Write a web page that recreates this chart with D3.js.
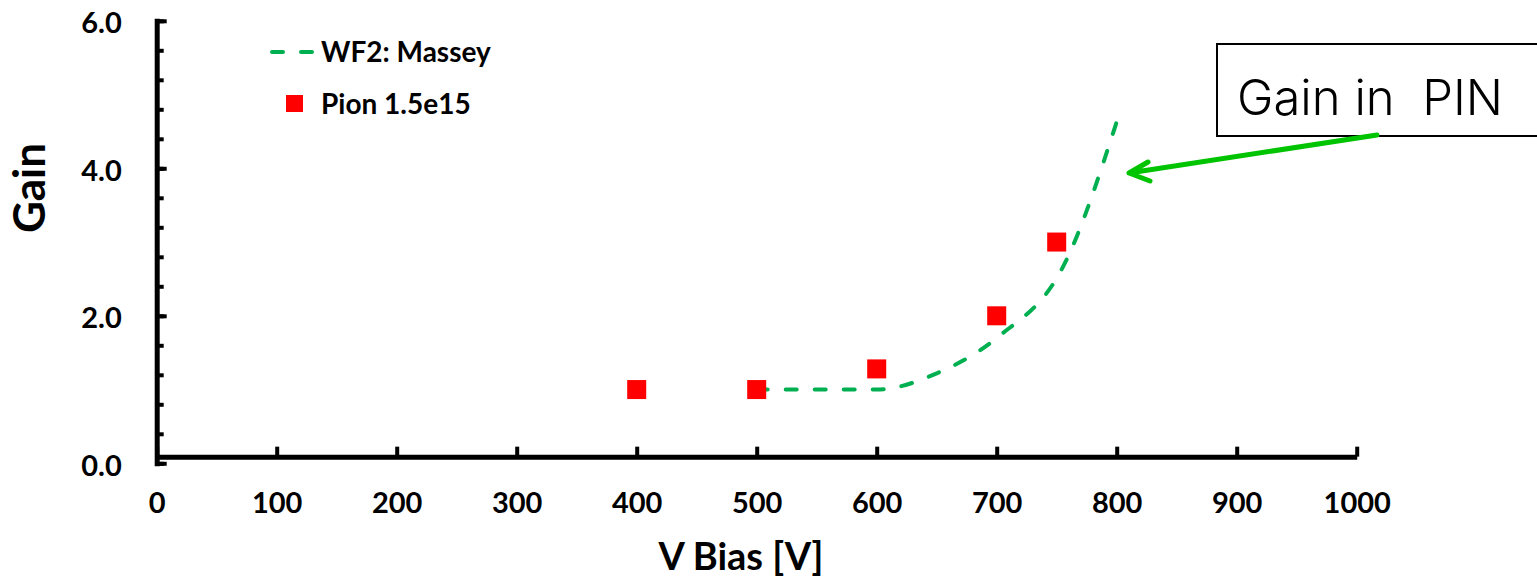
<!DOCTYPE html>
<html>
<head>
<meta charset="utf-8">
<script src="https://cdn.jsdelivr.net/npm/d3@7"></script>
<style>
    body { margin: 0; background: #fff; }
    svg { display: block; }
    text { font-family: Lato, "Open Sans", sans-serif; }
</style>
</head>
<body>
<div id="chart"></div>
<script>
// values
const pionVoltage = [400, 500, 600, 700, 750];
const pionGain = [1.0, 1.0, 1.28, 2.0, 3.0];
const masseyVoltage = [500, 550, 600, 650, 700, 757, 800];
const masseyGain = [1.0, 1.0, 1.0, 1.22, 1.7, 2.72, 4.63];
const xTicks = [0, 100, 200, 300, 400, 500, 600, 700, 800, 900, 1000];
const yMajorTicks = [0, 2, 4, 6];
const yMinorTicks = [0, 0.4, 0.8, 1.2, 1.6, 2.0, 2.4, 2.8, 3.2, 3.6, 4.0, 4.4, 4.8, 5.2, 5.6, 6.0];
const legendLabels = ["WF2: Massey", "Pion 1.5e15"];
const noteText = "Gain in  PIN";

window.addEventListener('load', () => {
    const width = 1537;
    const height = 579;
    const lineGreen = "#00b050";
    const arrowGreen = "#00c400";
    const markerRed = "#ff0000";

    const svg = d3.select("#chart")
        .append("svg")
        .attr("width", width)
        .attr("height", height);

    const x = d3.scaleLinear().domain([0, 1000]).range([156.7, 1356.7]);
    const y = d3.scaleLinear().domain([0, 6]).range([463.3, 20.8]);
    const xAxisCross = 0.09;  // excel draws the category axis a touch above zero

    // Y axis: minor ticks, then major ticks with labels
    svg.append("g")
        .attr("transform", `translate(${x(0)},0)`)
        .call(d3.axisLeft(y).tickValues(yMinorTicks).tickSizeInner(-7).tickSizeOuter(0).tickFormat(""))
        .call(g => g.selectAll(".tick line").attr("stroke", "#000").attr("stroke-width", 4))
        .call(g => g.select(".domain").remove());

    svg.append("g")
        .attr("transform", `translate(${x(0)},0)`)
        .call(d3.axisLeft(y).tickValues(yMajorTicks).tickSizeInner(-10).tickSizeOuter(0)
            .tickPadding(35).tickFormat(d3.format(".1f")))
        .call(g => g.select(".domain").attr("stroke", "#000").attr("stroke-width", 5)
            .attr("stroke-linecap", "square"))
        .call(g => g.selectAll(".tick line").attr("stroke", "#000").attr("stroke-width", 4))
        .call(g => g.selectAll(".tick text")
            .attr("fill", "#000")
            .attr("dy", "0.42em")
            .style("font-size", "29px")
            .style("font-weight", "bold"));

    // X axis with ticks pointing up into the plot
    svg.append("g")
        .attr("transform", `translate(0,${y(xAxisCross)})`)
        .call(d3.axisBottom(x).tickValues(xTicks).tickSizeInner(-10).tickSizeOuter(0)
            .tickPadding(36).tickFormat(d3.format("d")))
        .call(g => g.select(".domain").attr("stroke", "#000").attr("stroke-width", 5))
        .call(g => g.selectAll(".tick line").attr("stroke", "#000").attr("stroke-width", 4))
        .call(g => g.selectAll(".tick text")
            .attr("fill", "#000")
            .style("font-size", "29px")
            .style("font-weight", "bold"));

    // axis titles
    svg.append("text")
        .attr("x", 741)
        .attr("y", 570)
        .attr("text-anchor", "middle")
        .style("font-size", "38px")
        .style("font-weight", "bold")
        .text("V Bias [V]");

    svg.append("text")
        .attr("transform", "translate(45,188) rotate(-90)")
        .attr("text-anchor", "middle")
        .style("font-size", "44px")
        .style("font-weight", "bold")
        .text("Gain");

    // Massey simulation, dashed
    const massey = masseyVoltage.map((v, i) => ({v, g: masseyGain[i]}));
    const line = d3.line()
        .x(d => x(d.v))
        .y(d => y(d.g))
        .curve(d3.curveMonotoneX);

    svg.append("path")
        .datum(massey)
        .attr("d", line)
        .attr("fill", "none")
        .attr("stroke", lineGreen)
        .attr("stroke-width", 4)
        .attr("stroke-linecap", "round")
        .attr("stroke-dasharray", "11,18");

    // pion measurements
    const pion = pionVoltage.map((v, i) => ({v, g: pionGain[i]}));
    const size = 19;
    svg.selectAll(".pion")
        .data(pion)
        .join("rect")
        .attr("class", "pion")
        .attr("x", d => x(d.v) - size / 2)
        .attr("y", d => y(d.g) - size / 2)
        .attr("width", size)
        .attr("height", size)
        .attr("fill", markerRed);

    // legend
    const legend = svg.append("g");
    legend.append("line")
        .attr("x1", 272).attr("x2", 313)
        .attr("y1", 52).attr("y2", 52)
        .attr("stroke", lineGreen)
        .attr("stroke-width", 4)
        .attr("stroke-linecap", "round")
        .attr("stroke-dasharray", "11,18");
    legend.append("rect")
        .attr("x", 286).attr("y", 95)
        .attr("width", 17).attr("height", 17)
        .attr("fill", markerRed);
    legend.selectAll(".legend-label")
        .data(legendLabels)
        .join("text")
        .attr("class", "legend-label")
        .attr("x", 321)
        .attr("y", (d, i) => 52 + i * 52)
        .attr("dy", "0.36em")
        .style("font-size", "28px")
        .style("font-weight", "bold")
        .text(d => d);

    // annotation box and arrow
    svg.append("rect")
        .attr("x", 1217).attr("y", 44)
        .attr("width", 340).attr("height", 92)
        .attr("fill", "#fff")
        .attr("stroke", "#000")
        .attr("stroke-width", 2);

    svg.append("text")
        .attr("x", 1237)
        .attr("y", 115)
        .attr("xml:space", "preserve")
        .style("white-space", "pre")
        .style("font-family", "Inter, 'DejaVu Sans', sans-serif")
        .style("font-weight", 300)
        .style("font-size", "49px")
        .text(noteText);

    const tip = [1129, 173];
    svg.append("path")
        .attr("d", `M1377,135 L${tip[0]},${tip[1]} M1148,162 L${tip[0]},${tip[1]} L1150,181`)
        .attr("fill", "none")
        .attr("stroke", arrowGreen)
        .attr("stroke-width", 5)
        .attr("stroke-linejoin", "round")
        .attr("stroke-linecap", "round");
});
</script>
</body>
</html>
